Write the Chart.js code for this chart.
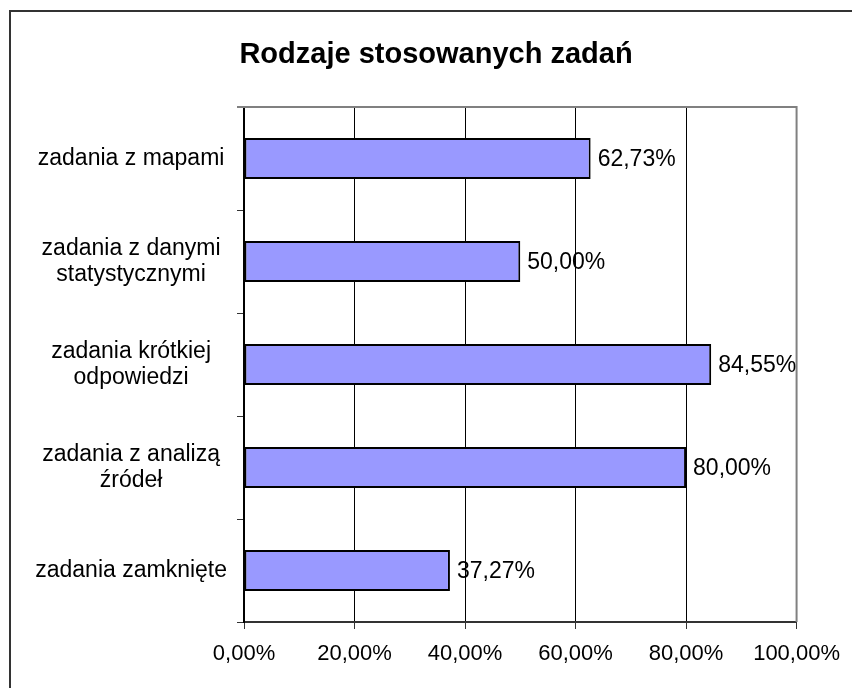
<!DOCTYPE html>
<html>
<head>
<meta charset="utf-8">
<script src="https://cdn.jsdelivr.net/npm/chart.js@4"></script>
<style>
  html, body { margin: 0; padding: 0; background: #fff; overflow: hidden; }
  #wrap { position: relative; width: 852px; height: 688px; }
  #frame {
    position: absolute; left: 9px; top: 10px; width: 900px; height: 700px;
    border-left: 2px solid #333; border-top: 2px solid #333;
    pointer-events: none;
  }
</style>
</head>
<body>
<div id="wrap">
  <canvas id="chart" width="852" height="688"></canvas>
  <div id="frame"></div>
</div>
<script>
// ── data ─────────────────────────────────────────────
const title = 'Rodzaje stosowanych zadań';
const categories = [
  'zadania z mapami',
  ['zadania z danymi', 'statystycznymi'],
  ['zadania krótkiej', 'odpowiedzi'],
  ['zadania z analizą', 'źródeł'],
  'zadania zamknięte'
];
const values = [62.73, 50.00, 84.55, 80.00, 37.27];
const xTicks = [0, 20, 40, 60, 80, 100];

const pct = v => v.toFixed(2).replace('.', ',') + '%';
const FONT = "'Liberation Sans', Arial, sans-serif";

// title sits left of the plot centre, like the Excel original
const chartTitle = {
  id: 'chartTitle',
  afterDraw(chart) {
    const ctx = chart.ctx;
    ctx.save();
    ctx.font = 'bold 29px ' + FONT;
    ctx.fillStyle = '#000';
    ctx.textAlign = 'center';
    ctx.textBaseline = 'alphabetic';
    ctx.fillText(title, 436, 63);
    ctx.restore();
  }
};

// grey frame on top and right of the plot area
const plotFrame = {
  id: 'plotFrame',
  afterDatasetsDraw(chart) {
    const { ctx, chartArea: a } = chart;
    ctx.save();
    ctx.strokeStyle = '#808080';
    ctx.lineWidth = 2;
    ctx.beginPath();
    ctx.moveTo(a.left - 7, a.top);
    ctx.lineTo(a.right, a.top);
    ctx.lineTo(a.right, a.bottom);
    ctx.stroke();
    ctx.restore();
  }
};

// value labels right of each bar
const barLabels = {
  id: 'barLabels',
  afterDatasetsDraw(chart) {
    const { ctx } = chart;
    const meta = chart.getDatasetMeta(0);
    ctx.save();
    ctx.font = '23px ' + FONT;
    ctx.fillStyle = '#000';
    ctx.textAlign = 'left';
    ctx.textBaseline = 'middle';
    meta.data.forEach((bar, i) => {
      ctx.fillText(pct(values[i]), bar.x + 7, bar.y + 1);
    });
    ctx.restore();
  }
};

new Chart(document.getElementById('chart'), {
  type: 'bar',
  data: {
    labels: categories,
    datasets: [{
      data: values,
      backgroundColor: '#9999FF',
      borderColor: '#000',
      borderWidth: 2,
      borderSkipped: false,
      barPercentage: 0.4,
      categoryPercentage: 1
    }]
  },
  options: {
    indexAxis: 'y',
    responsive: false,
    animation: false,
    layout: { padding: { left: 12, right: 55, top: 107, bottom: 0 } },
    plugins: {
      legend: { display: false },
      tooltip: { enabled: false },
      title: { display: false }
    },
    scales: {
      x: {
        min: 0,
        max: 100,
        afterBuildTicks: s => { s.ticks = xTicks.map(v => ({ value: v })); },
        afterFit: s => { s.height = 66; },
        ticks: {
          callback: v => pct(v),
          color: '#000',
          padding: 12,
          maxRotation: 0,
          font: { family: FONT, size: 22 }
        },
        grid: {
          color: c => (c.tick.value === 0 || c.tick.value === 100) ? 'rgba(0,0,0,0)' : '#000',
          lineWidth: 1,
          tickLength: 7,
          tickColor: '#333',
          tickWidth: 1
        },
        border: { display: true, color: '#333', width: 2 }
      },
      y: {
        afterFit: s => { s.width = 232; },
        ticks: {
          color: '#000',
          crossAlign: 'center',
          padding: 10,
          font: { family: FONT, size: 23, lineHeight: 1.12 }
        },
        grid: {
          offset: true,
          drawOnChartArea: false,
          tickLength: 7,
          tickColor: '#333',
          tickWidth: 1
        },
        border: { display: true, color: '#000', width: 2 }
      }
    }
  },
  plugins: [chartTitle, plotFrame, barLabels]
});
</script>
</body>
</html>
